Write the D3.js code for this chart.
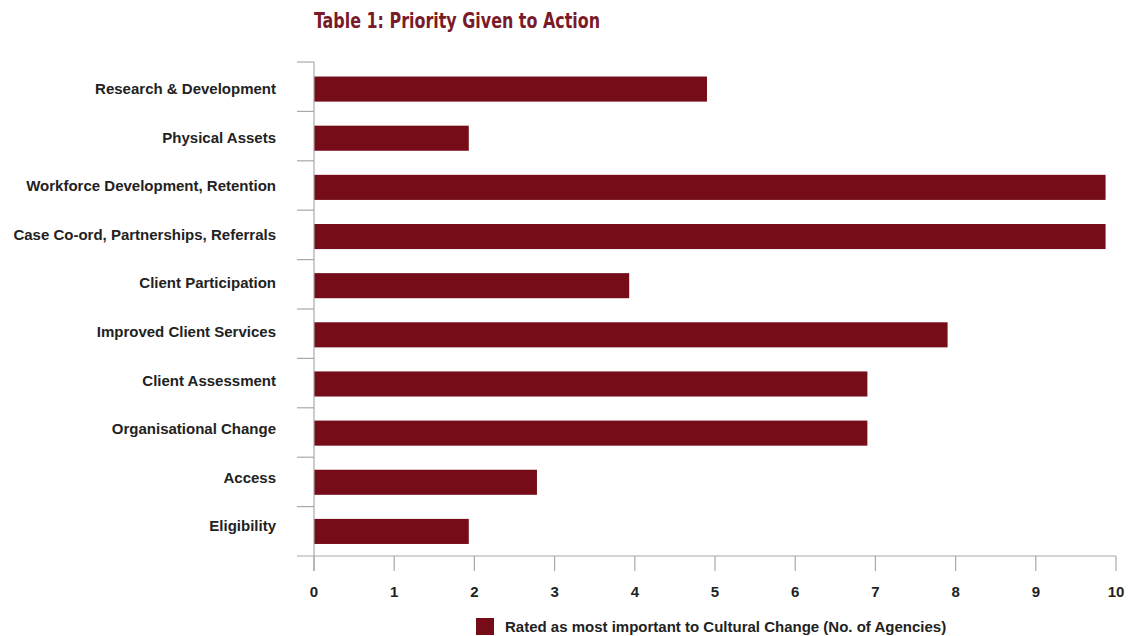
<!DOCTYPE html>
<html>
<head>
<meta charset="utf-8">
<script src="https://cdn.jsdelivr.net/npm/d3@7"></script>
<style>
  body { margin: 0; background: #fff; }
  svg text { font-family: "Liberation Sans", Arial, Helvetica, sans-serif; }
</style>
</head>
<body>
<div id="chart"></div>
<script>
// data
var categories = ["Research & Development", "Physical Assets", "Workforce Development, Retention",
  "Case Co-ord, Partnerships, Referrals", "Client Participation", "Improved Client Services",
  "Client Assessment", "Organisational Change", "Access", "Eligibility"]
var values = [4.9, 1.93, 9.87, 9.87, 3.93, 7.9, 6.9, 6.9, 2.78, 1.93]
var xTicks = [0, 1, 2, 3, 4, 5, 6, 7, 8, 9, 10]
var title = "Table 1: Priority Given to Action"
var legendLabel = "Rated as most important to Cultural Change (No. of Agencies)"

var width = 1128, height = 636
var barColor = "#750c18"
var axisColor = "#a9a9a9"

var svg = d3.select("#chart").append("svg")
  .attr("width", width)
  .attr("height", height)

var x = d3.scaleLinear().domain([0, 10]).range([314, 1116])
var y = d3.scaleBand().domain(categories).range([64.5, 556]).paddingInner(0.49).paddingOuter(0.245)
// labels in the original sit a little tighter than the bars
var yLabel = d3.scalePoint().domain(categories).range([89, 526])

// title
svg.append("text")
  .attr("x", 314)
  .attr("y", 28)
  .attr("fill", "#7a1a28")
  .attr("textLength", 286)
  .attr("lengthAdjust", "spacingAndGlyphs")
  .style("font-family", "'Liberation Sans Narrow', 'DejaVu Sans Condensed', sans-serif")
  .style("font-weight", "bold")
  .style("font-size", "21px")
  .text(title)

// bars
svg.append("g").selectAll("rect")
  .data(values)
  .enter().append("rect")
    .attr("x", x(0))
    .attr("y", function(d, i) { return y(categories[i]) })
    .attr("width", function(d) { return x(d) - x(0) })
    .attr("height", y.bandwidth())
    .attr("fill", barColor)

// y axis: vertical line + separators between rows
var edges = d3.range(categories.length).map(function(i) { return 62 + i * (494 / categories.length) })
var yAxis = svg.append("g")
yAxis.append("line")
  .attr("x1", x(0)).attr("x2", x(0))
  .attr("y1", 62).attr("y2", 571)
  .attr("stroke", axisColor).attr("stroke-width", 1.2)
yAxis.selectAll(".sep")
  .data(edges)
  .enter().append("line")
    .attr("class", "sep")
    .attr("x1", 297).attr("x2", x(0))
    .attr("y1", function(d) { return d }).attr("y2", function(d) { return d })
    .attr("stroke", axisColor).attr("stroke-width", 1.2)

yAxis.selectAll(".lbl")
  .data(categories)
  .enter().append("text")
    .attr("class", "lbl")
    .attr("x", 276)
    .attr("y", function(d) { return yLabel(d) })
    .attr("dy", "0.35em")
    .attr("text-anchor", "end")
    .attr("fill", "#222")
    .style("font-weight", "bold")
    .style("font-size", "15px")
    .text(function(d) { return d })

// x axis
var xAxis = svg.append("g")
xAxis.append("line")
  .attr("x1", 297).attr("x2", x(10))
  .attr("y1", 556).attr("y2", 556)
  .attr("stroke", axisColor).attr("stroke-width", 1.2)
xAxis.selectAll(".tick")
  .data(xTicks)
  .enter().append("line")
    .attr("class", "tick")
    .attr("x1", function(d) { return x(d) }).attr("x2", function(d) { return x(d) })
    .attr("y1", 556).attr("y2", 571)
    .attr("stroke", axisColor).attr("stroke-width", 1.2)
xAxis.selectAll(".tl")
  .data(xTicks)
  .enter().append("text")
    .attr("class", "tl")
    .attr("x", function(d) { return x(d) })
    .attr("y", 592)
    .attr("dy", "0.35em")
    .attr("text-anchor", "middle")
    .attr("fill", "#222")
    .style("font-weight", "bold")
    .style("font-size", "15px")
    .text(function(d) { return d })

// legend
var legend = svg.append("g")
legend.append("rect")
  .attr("x", 476).attr("y", 618)
  .attr("width", 18).attr("height", 17)
  .attr("fill", barColor)
legend.append("text")
  .attr("x", 505).attr("y", 627)
  .attr("dy", "0.35em")
  .attr("fill", "#222")
  .style("font-weight", "bold")
  .style("font-size", "15px")
  .text(legendLabel)
</script>
</body>
</html>
